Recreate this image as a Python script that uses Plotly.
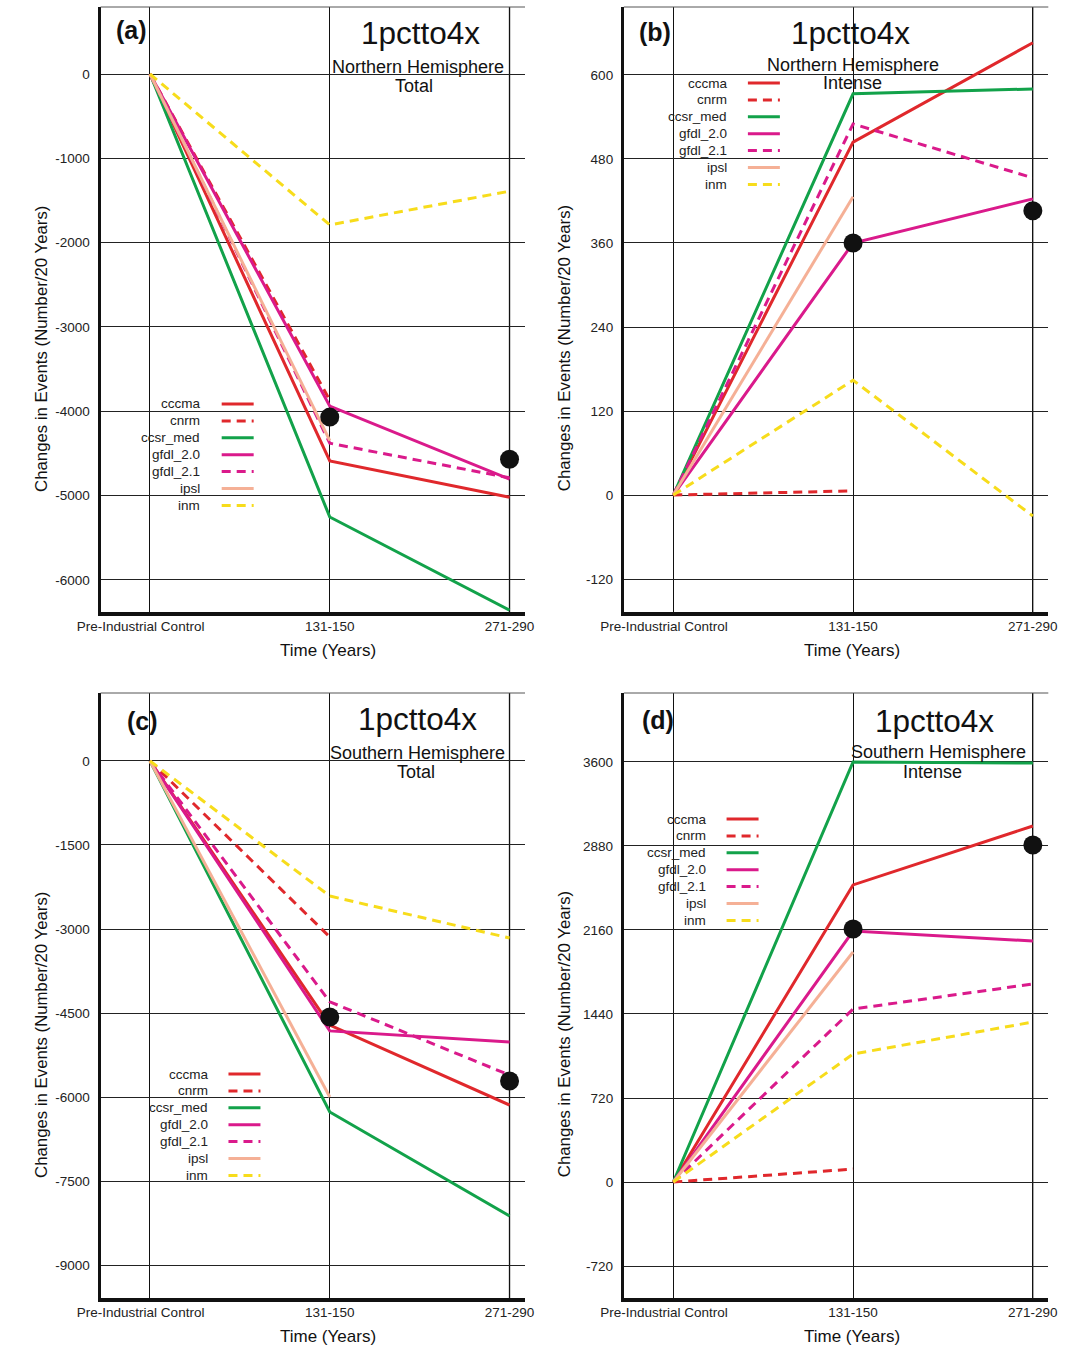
import plotly.graph_objects as go

W, H = 1067, 1345
FONT = "Liberation Sans, Arial, Helvetica, sans-serif"

categories = ["Pre-Industrial Control", "131-150", "271-290"]
tick_labels = ["Pre-Industrial Control\u00a0\u00a0\u00a0\u00a0\u00a0", "131-150", "271-290"]
models = ["cccma", "cnrm", "ccsr_med", "gfdl_2.0", "gfdl_2.1", "ipsl", "inm"]
colors = ["#E0282C", "#E0282C", "#12A24A", "#DA1A8B", "#DA1A8B", "#F5B096", "#F7DC1B"]
dashes = ["solid", "9px,6px", "solid", "solid", "9px,6px", "solid", "9px,6px"]

# (a) Northern Hemisphere Total
a_cccma = [0, -4590, -5020]
a_cnrm = [0, -3870]
a_ccsr_med = [0, -5255, -6360]
a_gfdl_20 = [0, -3940, -4805]
a_gfdl_21 = [0, -4380, -4790]
a_ipsl = [0, -4350]
a_inm = [0, -1790, -1390]
a_dots = [-4070, -4570]

# (b) Northern Hemisphere Intense
b_cccma = [0, 504, 646]
b_cnrm = [0, 6]
b_ccsr_med = [0, 573, 580]
b_gfdl_20 = [0, 360, 423]
b_gfdl_21 = [0, 530, 453]
b_ipsl = [0, 426]
b_inm = [0, 164, -30]
b_dots = [360, 406]

# (c) Southern Hemisphere Total
c_cccma = [0, -4715, -6143]
c_cnrm = [0, -3143]
c_ccsr_med = [0, -6268, -8125]
c_gfdl_20 = [0, -4820, -5018]
c_gfdl_21 = [0, -4300, -5608]
c_ipsl = [0, -6000]
c_inm = [0, -2411, -3161]
c_dots = [-4570, -5715]

# (d) Southern Hemisphere Intense
d_cccma = [0, 2546, 3051]
d_cnrm = [0, 111]
d_ccsr_med = [0, 3600, 3591]
d_gfdl_20 = [0, 2151, 2066]
d_gfdl_21 = [0, 1483, 1697]
d_ipsl = [0, 1971]
d_inm = [0, 1097, 1371]
d_dots = [2169, 2888]

a_ticks = [0, -1000, -2000, -3000, -4000, -5000, -6000]
b_ticks = [600, 480, 360, 240, 120, 0, -120]
c_ticks = [0, -1500, -3000, -4500, -6000, -7500, -9000]
d_ticks = [3600, 2880, 2160, 1440, 720, 0, -720]

panels = [
    dict(series=[a_cccma, a_cnrm, a_ccsr_med, a_gfdl_20, a_gfdl_21, a_ipsl, a_inm], dots=a_dots,
         ticks=a_ticks, yrange=[-6382, 795], px=(79, 517, 7, 612), label="(a)", lab_xy=(111, 30),
         hemi="Northern Hemisphere", kind="Total", time_x=314,
         t1=(409, 33), t2=(407, 67), t3=(402, 86), leg=(184, 204, 404)),
    dict(series=[b_cccma, b_cnrm, b_ccsr_med, b_gfdl_20, b_gfdl_21, b_ipsl, b_inm], dots=b_dots,
         ticks=b_ticks, yrange=[-167, 697], px=(619, 1057, 7, 612), label="(b)", lab_xy=(651, 32),
         hemi="Northern Hemisphere", kind="Intense", time_x=854,
         t1=(853, 33), t2=(855, 65), t3=(855, 83), leg=(728, 747, 83)),
    dict(series=[c_cccma, c_cnrm, c_ccsr_med, c_gfdl_20, c_gfdl_21, c_ipsl, c_inm], dots=c_dots,
         ticks=c_ticks, yrange=[-9589, 1214], px=(79, 517, 693, 1298), label="(c)", lab_xy=(122, 721),
         hemi="Southern Hemisphere", kind="Total", time_x=314,
         t1=(406, 719), t2=(406, 753), t3=(404, 772), leg=(192, 211, 1074)),
    dict(series=[d_cccma, d_cnrm, d_ccsr_med, d_gfdl_20, d_gfdl_21, d_ipsl, d_inm], dots=d_dots,
         ticks=d_ticks, yrange=[-994, 4191], px=(619, 1057, 693, 1298), label="(d)", lab_xy=(654, 720),
         hemi="Southern Hemisphere", kind="Intense", time_x=854,
         t1=(940, 721), t2=(944, 752), t3=(937, 772), leg=(706, 725, 819)),
]

fig = go.Figure()
annotations = []
shapes = []


def px2x(p):
    return p / W


def px2y(p):
    return 1 - p / H


for i, p in enumerate(panels):
    n = i + 1
    xa = "x" if n == 1 else f"x{n}"
    ya = "y" if n == 1 else f"y{n}"
    x0, x1, y0, y1 = p["px"]
    for m, (vals, col, dsh) in enumerate(zip(p["series"], colors, dashes)):
        fig.add_trace(go.Scatter(
            x=categories[:len(vals)], y=vals, mode="lines", xaxis=xa, yaxis=ya,
            line=dict(color=col, width=3, dash=dsh), showlegend=False, name=models[m]))
    fig.add_trace(go.Scatter(
        x=categories[1:], y=p["dots"], mode="markers", xaxis=xa, yaxis=ya,
        marker=dict(color="#111111", size=19), showlegend=False, name="mean"))

    xkey = "xaxis" if n == 1 else f"xaxis{n}"
    ykey = "yaxis" if n == 1 else f"yaxis{n}"
    fig.update_layout({
        xkey: dict(domain=[px2x(x0), px2x(x1)], anchor=ya, type="category",
                   categoryorder="array", categoryarray=categories,
                   tickvals=categories, ticktext=tick_labels,
                   range=[-0.275, 2.086], showgrid=True, gridcolor="#111111", gridwidth=1,
                   showline=True, linecolor="#111111", linewidth=4, zeroline=False,
                   ticks="", ticklabelstandoff=-1,
                   tickfont=dict(size=13.5, color="#222222", family=FONT)),
        ykey: dict(domain=[px2y(y1), px2y(y0)], anchor=xa, range=p["yrange"],
                   tickvals=p["ticks"], ticktext=[str(t) for t in p["ticks"]],
                   showgrid=True, gridcolor="#222222", gridwidth=1,
                   showline=True, linecolor="#111111", linewidth=3, zeroline=False,
                   ticks="outside", ticklen=5, tickcolor="rgba(0,0,0,0)",
                   tickfont=dict(size=13.5, color="#222222", family=FONT)),
    })

    # grey right-most time line, as in the reference
    shapes.append(dict(type="line", xref=xa, yref=ya + " domain", x0=categories[2], x1=categories[2],
                       y0=0, y1=1, line=dict(color="#777777", width=1.6), layer="below"))
    # top border line
    shapes.append(dict(type="line", xref="paper", yref="paper",
                       x0=px2x(x0), x1=px2x(x1), y0=px2y(y0), y1=px2y(y0),
                       line=dict(color="#555555", width=1)))

    annotations.append(dict(text="1pctto4x", x=px2x(p["t1"][0]), y=px2y(p["t1"][1]),
                            xref="paper", yref="paper", showarrow=False,
                            font=dict(size=31.5, color="#111111", family=FONT),
                            xanchor="center", yanchor="middle"))
    annotations.append(dict(text=p["hemi"], x=px2x(p["t2"][0]), y=px2y(p["t2"][1]),
                            xref="paper", yref="paper", showarrow=False,
                            font=dict(size=18, color="#111111", family=FONT),
                            xanchor="center", yanchor="middle"))
    annotations.append(dict(text=p["kind"], x=px2x(p["t3"][0]), y=px2y(p["t3"][1]),
                            xref="paper", yref="paper", showarrow=False,
                            font=dict(size=18, color="#111111", family=FONT),
                            xanchor="center", yanchor="middle"))
    annotations.append(dict(text="<b>" + p["label"] + "</b>", x=px2x(p["lab_xy"][0]),
                            y=px2y(p["lab_xy"][1]), xref="paper", yref="paper", showarrow=False,
                            font=dict(size=25, color="#111111", family=FONT),
                            xanchor="center", yanchor="middle"))
    annotations.append(dict(text="Time (Years)", x=px2x(p["time_x"]), y=px2y(y1 + 38),
                            xref="paper", yref="paper", showarrow=False,
                            font=dict(size=17, color="#111111", family=FONT),
                            xanchor="center", yanchor="middle"))
    annotations.append(dict(text="Changes in Events (Number/20 Years)", x=px2x(x0 - 61),
                            y=px2y((y0 + y1) / 2 + 39), xref="paper", yref="paper",
                            showarrow=False, textangle=-90,
                            font=dict(size=16.8, color="#111111", family=FONT),
                            xanchor="center", yanchor="middle"))
    tx, lx, ly = p["leg"]
    for m in range(len(models)):
        yy = ly + m * 16.9
        annotations.append(dict(text=models[m], x=px2x(tx), y=px2y(yy), xref="paper",
                                yref="paper", showarrow=False, xanchor="right", yanchor="middle",
                                font=dict(size=13.5, color="#222222", family=FONT)))
        shapes.append(dict(type="line", xref="paper", yref="paper",
                           x0=px2x(lx), x1=px2x(lx + 33), y0=px2y(yy), y1=px2y(yy),
                           line=dict(color=colors[m], width=3, dash=dashes[m])))

fig.update_layout(width=W, height=H, margin=dict(l=0, r=0, t=0, b=0),
                  paper_bgcolor="white", plot_bgcolor="white",
                  font=dict(family=FONT, color="#111111"),
                  annotations=annotations, shapes=shapes, showlegend=False)

fig.write_html("out.html")
